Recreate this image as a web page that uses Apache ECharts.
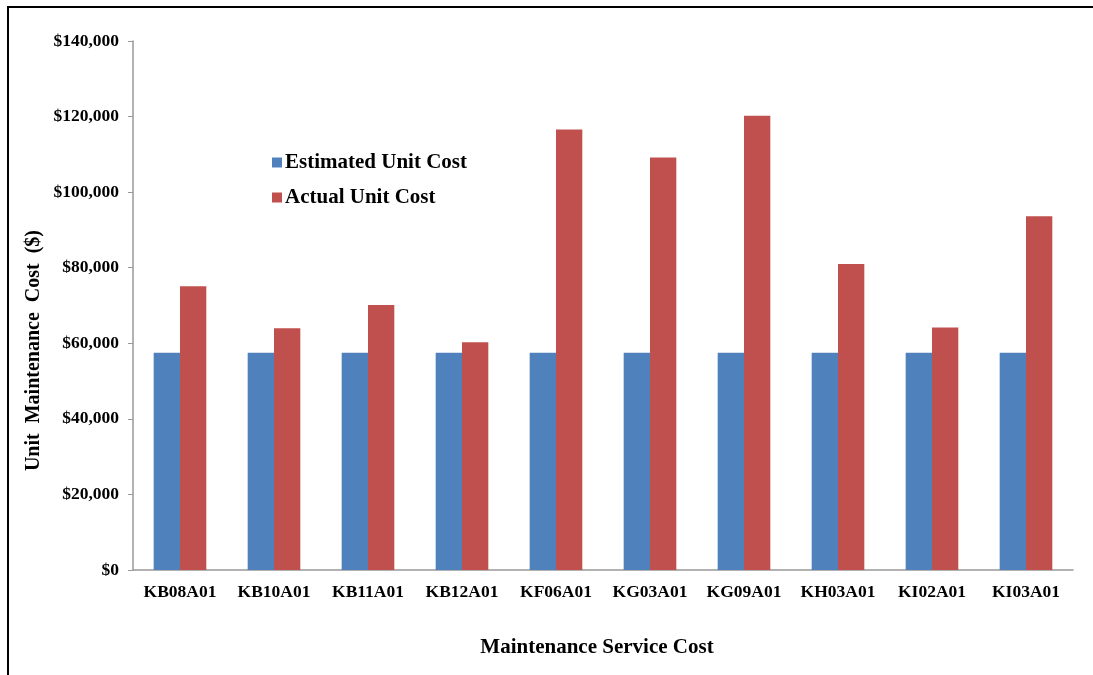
<!DOCTYPE html>
<html>
<head>
<meta charset="utf-8">
<script src="https://cdn.jsdelivr.net/npm/echarts@6/dist/echarts.min.js"></script>
<style>
  html, body { margin: 0; padding: 0; background: #fff; }
  #frame {
    position: absolute; left: 7px; top: 6px; width: 1086px; height: 669px;
    border-top: 2px solid #000; border-left: 2px solid #000;
  }
  #chart { position: absolute; left: 0; top: 0; width: 1093px; height: 675px; }
</style>
</head>
<body>
<div id="frame"></div>
<div id="chart"></div>
<script>
const categories = ['KB08A01', 'KB10A01', 'KB11A01', 'KB12A01', 'KF06A01', 'KG03A01', 'KG09A01', 'KH03A01', 'KI02A01', 'KI03A01']
const estimatedCost = [57500, 57500, 57500, 57500, 57500, 57500, 57500, 57500, 57500, 57500]
const actualCost = [75100, 64000, 70100, 60300, 116600, 109200, 120200, 81000, 64200, 93600]

const font = '"Liberation Serif", "Times New Roman", serif'
const money = (v) => '$' + v.toLocaleString('en-US')

const chart = echarts.init(document.getElementById('chart'))
chart.setOption({
  animation: false,
  textStyle: { fontFamily: font },
  grid: { left: 133, right: 20, top: 41, bottom: 105 },
  legend: {
    orient: 'vertical',
    left: 267,
    top: 147,
    icon: 'rect',
    itemWidth: 10,
    itemHeight: 10,
    itemGap: 14,
    textStyle: { fontFamily: font, fontWeight: 'bold', fontSize: 21, color: '#000', padding: [0, 0, 0, -2] },
    data: ['Estimated Unit Cost', 'Actual Unit Cost']
  },
  xAxis: {
    type: 'category',
    data: categories,
    axisLine: { lineStyle: { color: '#999', width: 1.5 } },
    axisTick: { show: false },
    axisLabel: { interval: 0, color: '#000', fontFamily: font, fontWeight: 'bold', fontSize: 17.5, margin: 13 },
    name: 'Maintenance Service Cost',
    nameLocation: 'middle',
    nameGap: 67,
    nameTextStyle: { color: '#000', fontFamily: font, fontWeight: 'bold', fontSize: 21, padding: [0, 12, 0, 0] }
  },
  yAxis: {
    type: 'value',
    min: 0,
    max: 140000,
    interval: 20000,
    axisLine: { show: true, lineStyle: { color: '#999', width: 1.5 } },
    axisTick: { show: true, length: 5, lineStyle: { color: '#999' } },
    splitLine: { show: false },
    axisLabel: { color: '#000', fontFamily: font, fontWeight: 'bold', fontSize: 17.5, margin: 14, formatter: money }
  },
  graphic: [{
    type: 'text',
    left: 24,
    top: 230,
    rotation: Math.PI / 2,
    style: {
      text: 'Unit  Maintenance  Cost  ($)',
      fill: '#000',
      font: 'bold 20px "Liberation Serif", serif'
    }
  }],
  series: [
    {
      name: 'Estimated Unit Cost',
      type: 'bar',
      data: estimatedCost,
      itemStyle: { color: '#4F81BD' },
      barGap: '0%',
      barCategoryGap: '44%'
    },
    {
      name: 'Actual Unit Cost',
      type: 'bar',
      data: actualCost,
      itemStyle: { color: '#C0504D' },
      barGap: '0%',
      barCategoryGap: '44%'
    }
  ]
})
</script>
</body>
</html>
